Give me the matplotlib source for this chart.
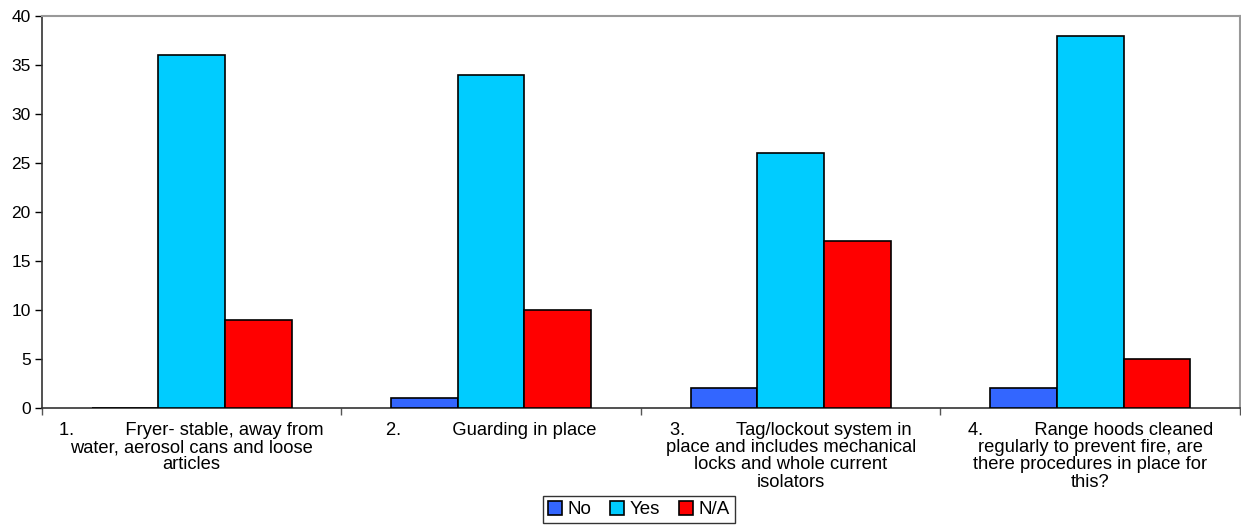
import numpy as np
import matplotlib
matplotlib.use("Agg")
import matplotlib.pyplot as plt

plt.rcParams['font.family'] = ['Liberation Sans', 'DejaVu Sans']

# data
categories = [
    "1.          Fryer- stable, away from\nwater, aerosol cans and loose\narticles",
    "2.          Guarding in place",
    "3.          Tag/lockout system in\nplace and includes mechanical\nlocks and whole current\nisolators",
    "4.          Range hoods cleaned\nregularly to prevent fire, are\nthere procedures in place for\nthis?",
]
series_names = ["No", "Yes", "N/A"]
no_vals = [0, 1, 2, 2]
yes_vals = [36, 34, 26, 38]
na_vals = [9, 10, 17, 5]
colors = ["#3366FF", "#00CCFF", "#FF0000"]

fig = plt.figure(figsize=(12.41, 5.27), dpi=100)
ax = fig.add_axes([0.0338, 0.2258, 0.9654, 0.7438])

x = np.arange(len(categories))
w = 2 / 9
for i, (vals, name, c) in enumerate(zip([no_vals, yes_vals, na_vals], series_names, colors)):
    ax.bar(x + (i - 1) * w, vals, width=w, color=c, edgecolor="black",
           linewidth=1.2, label=name, zorder=3)

ax.set_xlim(-0.5, len(categories) - 0.5)
ax.set_ylim(0, 40)
ax.set_yticks(range(0, 41, 5))
ax.tick_params(axis="y", labelsize=12.5, length=5, width=1, direction="out", pad=3)

ax.set_xticks(x)
ax.set_xticklabels(categories, fontsize=13.2, linespacing=1.02)
ax.tick_params(axis="x", which="major", length=0, pad=10)
ax.set_xticks(np.arange(-0.5, len(categories), 1), minor=True)
ax.tick_params(axis="x", which="minor", length=5, width=1, color="#555555")

for s in ["top", "right"]:
    ax.spines[s].set_color("#999999")
    ax.spines[s].set_linewidth(1.5)
for s in ["left", "bottom"]:
    ax.spines[s].set_color("#333333")
    ax.spines[s].set_linewidth(1.2)

leg = fig.legend(loc="lower center", bbox_to_anchor=(0.515, 0.004), ncol=3,
                 fontsize=13.5, frameon=True, fancybox=False, edgecolor="black",
                 handlelength=0.75, handleheight=0.75, handletextpad=0.3,
                 columnspacing=1.0, borderpad=0.25, borderaxespad=0.1)
leg.get_frame().set_linewidth(1.0)

fig.savefig("out.png", dpi=100)
